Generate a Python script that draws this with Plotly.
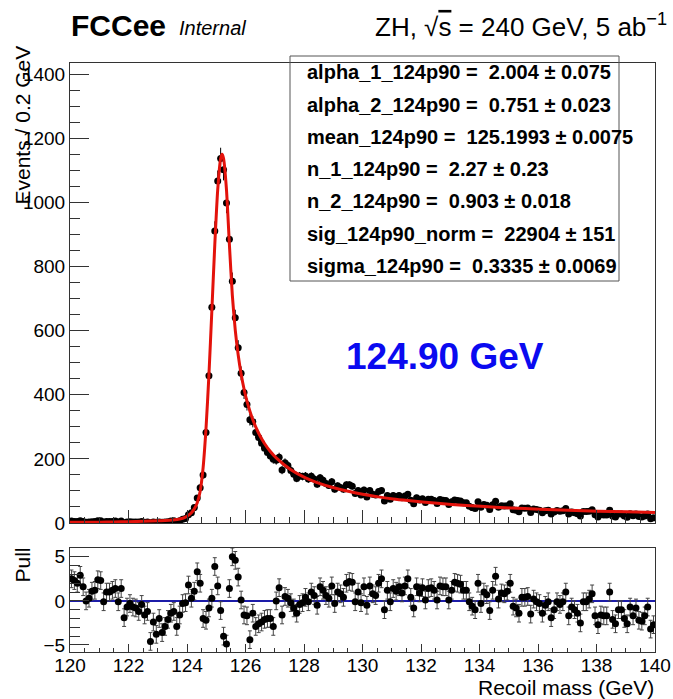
import numpy as np
import plotly.graph_objects as go

# ---------------- data ----------------
BIN_LO, BIN_HI, NBINS = 120.0, 140.0, 200

counts = [6, 5, 5, 7, 5, 2, 3, 4, 5, 7,
          7, 3, 5, 5, 5, 6, 3, 6, 1, 3,
          4, 3, 3, 3, 5, 2, 3, 1, 3, 2,
          3, 2, 3, 4, 6, 7, 4, 7, 12, 14,
          26, 32, 48, 78, 110, 150, 282, 459, 673, 911,
          1067, 1137, 1102, 998, 885, 754, 640, 547, 467, 407,
          370, 322, 316, 282, 267, 249, 233, 220, 209, 199,
          196, 205, 165, 188, 179, 164, 152, 139, 147, 145,
          147, 137, 146, 137, 121, 141, 133, 123, 117, 129,
          105, 116, 111, 105, 119, 119, 115, 92, 101, 87,
          103, 81, 101, 90, 87, 98, 101, 69, 86, 74,
          86, 82, 86, 79, 84, 90, 71, 60, 79, 72,
          76, 64, 74, 74, 70, 61, 73, 71, 70, 58,
          66, 72, 70, 69, 63, 63, 52, 48, 45, 66,
          49, 58, 55, 42, 57, 68, 49, 54, 53, 54,
          60, 41, 40, 35, 47, 46, 47, 33, 44, 42,
          40, 32, 38, 40, 28, 34, 39, 37, 38, 45,
          28, 34, 32, 29, 22, 36, 36, 37, 41, 26,
          19, 26, 25, 25, 40, 22, 19, 28, 28, 22,
          18, 29, 23, 28, 20, 19, 22, 28, 13, 16]

pulls = [2.5, 2.3, 2.0, 2.9, 1.6, 0.0, 0.3, 1.1, 1.2, 2.4,
         2.3, -0.1, 1.0, 1.0, 1.2, 1.4, -0.1, 1.4, -1.9, -0.7,
         -0.3, -0.7, -0.8, -1.2, -0.4, -1.6, -1.2, -4.6, -2.4, -3.8,
         -2.0, -3.6, -2.9, -2.1, -1.4, -1.2, -2.9, -1.6, -0.3, -0.2,
         1.8, 0.3, 1.1, 3.3, 2.0, -2.0, -2.2, -0.8, 0.3, 3.9,
         1.7, -1.1, -4.0, -4.9, 1.4, 5.0, 4.6, 2.7, 0.1, -1.6,
         -1.7, -4.4, -1.4, -2.9, -2.6, -2.4, -2.1, -2.0, -2.0, -2.9,
         0.0, 1.5, -1.6, 0.5, 0.3, -0.2, -0.8, -1.4, -0.4, -0.2,
         0.4, -0.1, 1.0, 0.6, -0.5, 1.6, 1.2, 0.6, 0.3, 1.7,
         -0.3, 1.0, 0.8, 0.4, 2.0, 2.2, 2.1, -0.1, 1.0, -0.2,
         1.6, -0.5, 1.7, 0.8, 0.6, 2.0, 2.5, -1.0, 1.2, -0.1,
         1.4, 1.1, 1.6, 0.9, 1.7, 2.5, 0.4, -0.8, 1.6, 0.9,
         1.5, 0.1, 1.4, 1.5, 1.2, 0.1, 1.7, 1.6, 1.6, 0.1,
         1.2, 2.1, 2.0, 1.9, 1.2, 1.2, -0.1, -0.6, -1.0, 2.0,
         -0.3, 1.0, 0.7, -1.1, 1.2, 2.8, 0.2, 0.9, 0.8, 1.1,
         2.0, -0.6, -0.8, -1.4, 0.4, 0.4, 0.5, -1.5, 0.2, -0.1,
         -0.3, -1.4, -0.5, -0.1, -1.9, -1.0, -0.1, -0.4, -0.1, 1.0,
         -1.7, -0.7, -1.0, -1.4, -2.5, -0.1, -0.1, 0.2, 0.8, -1.7,
         -2.7, -1.6, -1.7, -1.7, 1.0, -2.1, -2.6, -1.0, -1.0, -2.0,
         -2.6, -0.7, -1.7, -0.8, -2.2, -2.3, -1.7, -0.7, -3.2, -2.7]

fit_mass = [120.0, 120.5, 121.0, 121.5, 122.0, 122.5, 123.0, 123.25, 123.5, 123.75,
            123.95, 124.05, 124.15, 124.25, 124.35, 124.45, 124.55, 124.65, 124.75, 124.85,
            124.95, 125.05, 125.15, 125.2, 125.25, 125.35, 125.45, 125.55, 125.65, 125.75,
            125.85, 125.95, 126.05, 126.25, 126.45, 126.65, 126.85, 127.05, 127.55, 128.05,
            128.55, 129.05, 129.55, 130.05, 130.55, 131.05, 131.55, 132.05, 133.05, 134.05,
            135.05, 136.05, 137.05, 138.05, 139.05, 140.0]
fit_vals = [2.0, 2.3, 2.7, 3.2, 4.0, 5.2, 6.8, 8.0, 9.6, 12.5,
            18.5, 24, 32, 44, 63, 99, 172, 295, 463, 663,
            868, 1039, 1137, 1150, 1137, 1039, 868, 710, 602, 524,
            465, 418, 380, 322, 280, 248, 223, 203, 166, 141,
            123, 109, 98, 89, 81.5, 75, 70, 65.5, 58, 52,
            47, 43, 40, 37, 35, 33]

params = [("alpha_1_124p90", "2.004", "0.075"),
          ("alpha_2_124p90", "0.751", "0.023"),
          ("mean_124p90", "125.1993", "0.0075"),
          ("n_1_124p90", "2.27", "0.23"),
          ("n_2_124p90", "0.903", "0.018"),
          ("sig_124p90_norm", "22904", "151"),
          ("sigma_124p90", "0.3335", "0.0069")]

mass_label = "124.90 GeV"

# ---------------- layout helpers ----------------
W, H = 673, 699
L, R, T, B = 70, 655, 63, 652      # plotting box, in page pixels


def px(x):
    return (x - L) / (R - L)


def py(y):
    return (B - y) / (B - T)


FONT = "Liberation Sans, Arial, Helvetica, sans-serif"
AX = "#333333"

centers = BIN_LO + (np.arange(NBINS) + 0.5) * (BIN_HI - BIN_LO) / NBINS
cnt = np.array(counts, dtype=float)
err = np.sqrt(cnt)

fig = go.Figure()

fig.add_trace(go.Scatter(
    x=centers, y=cnt, mode="markers",
    marker=dict(color="black", size=7),
    error_y=dict(type="data", array=err, color="black", thickness=1, width=0),
    xaxis="x", yaxis="y", showlegend=False, hoverinfo="skip"))
fig.add_trace(go.Scatter(
    x=fit_mass, y=fit_vals, mode="lines",
    line=dict(color="#e3120b", width=3, shape="spline", smoothing=0.6),
    xaxis="x", yaxis="y", showlegend=False, hoverinfo="skip"))

fig.add_trace(go.Scatter(
    x=centers, y=pulls, mode="markers",
    marker=dict(color="black", size=7),
    error_y=dict(type="constant", value=1.0, color="#444444", thickness=1, width=2),
    xaxis="x2", yaxis="y2", showlegend=False, hoverinfo="skip"))

main_bottom = py(523)
pull_top = py(548)

tickfont = dict(family=FONT, size=19, color="black")

fig.update_layout(
    width=W, height=H, autosize=False,
    margin=dict(l=L, r=W - R, t=T, b=H - B, pad=0, autoexpand=False),
    paper_bgcolor="white", plot_bgcolor="white",
    font=dict(family=FONT, color="black"),
    xaxis=dict(domain=[0, 1], range=[BIN_LO, BIN_HI], anchor="y", automargin=False,
               showticklabels=False, ticks="inside", ticklen=13, tickwidth=1,
               tickcolor=AX, tick0=120, dtick=2,
               minor=dict(ticks="inside", ticklen=6, dtick=0.5, tickcolor=AX),
               showline=True, linecolor=AX, linewidth=1, mirror=True,
               showgrid=False, zeroline=False),
    yaxis=dict(domain=[main_bottom, 1], range=[0, 1435], anchor="x", automargin=False,
               ticks="inside", ticklen=19, tickwidth=1, tickcolor=AX,
               tick0=0, dtick=200, tickfont=tickfont, ticklabelstandoff=0,
               minor=dict(ticks="inside", ticklen=10, dtick=50, tickcolor=AX),
               showline=True, linecolor=AX, linewidth=1, mirror=True,
               showgrid=False, zeroline=False),
    xaxis2=dict(domain=[0, 1], range=[BIN_LO, BIN_HI], anchor="y2", automargin=False,
                ticks="inside", ticklen=8, tickwidth=1, tickcolor=AX,
                tick0=120, dtick=2, tickfont=tickfont, ticklabelstandoff=-4,
                ticklabeloverflow="allow",
                minor=dict(ticks="inside", ticklen=4, dtick=0.5, tickcolor=AX),
                showline=True, linecolor=AX, linewidth=1, mirror=True,
                showgrid=False, zeroline=False),
    yaxis2=dict(domain=[0, pull_top], range=[-5.8, 6.0], anchor="x2", automargin=False,
                ticks="inside", ticklen=19, tickwidth=1, tickcolor=AX,
                tickvals=[-5, 0, 5], ticktext=["\u22125", "0", "5"], tickfont=tickfont,
                ticklabelstandoff=0,
                minor=dict(ticks="inside", ticklen=10, dtick=1, tickcolor=AX),
                showline=True, linecolor=AX, linewidth=1, mirror=True,
                showgrid=False, zeroline=False),
)

fig.add_shape(type="line", xref="x2", yref="y2", x0=BIN_LO, x1=BIN_HI, y0=0, y1=0,
              line=dict(color="#1c1ca8", width=2), layer="below")

fig.add_shape(type="rect", xref="paper", yref="paper",
              x0=px(290), x1=px(619), y0=py(281), y1=py(56),
              line=dict(color="#555555", width=1), fillcolor="rgba(0,0,0,0)")

anns = []
row_y = [72, 104.5, 137, 169, 201, 233.5, 266]
for (name, val, unc), yy in zip(params, row_y):
    anns.append(dict(text=f"<b>{name} =  {val} \u00b1 {unc}</b>",
                     x=px(305), y=py(yy), xanchor="left", yanchor="middle",
                     font=dict(family=FONT, size=20, color="black")))

anns += [
    dict(text="<b>FCCee</b>", x=px(69), y=py(25), xanchor="left", yanchor="middle",
         font=dict(family=FONT, size=30, color="black")),
    dict(text="<i>Internal</i>", x=px(177), y=py(28), xanchor="left", yanchor="middle",
         font=dict(family=FONT, size=20, color="black")),
    dict(text="ZH, \u221a<span style='text-decoration:overline'>s</span> = 240 GeV, 5 ab<sup>\u22121</sup>",
         x=px(669), y=py(25), xanchor="right", yanchor="middle",
         font=dict(family=FONT, size=26, color="black")),
    dict(text=f"<b>{mass_label}</b>", x=px(445), y=py(356), xanchor="center", yanchor="middle",
         font=dict(family=FONT, size=37, color="#0a0af0")),
    dict(text="Events / 0.2 GeV", x=px(22), y=py(207), xanchor="center", yanchor="bottom",
         textangle=-90, font=dict(family=FONT, size=21, color="black")),
    dict(text="Pull", x=px(22), y=py(546), xanchor="center", yanchor="top",
         textangle=-90, font=dict(family=FONT, size=21, color="black")),
    dict(text="Recoil mass (GeV)", x=px(656), y=py(687), xanchor="right", yanchor="middle",
         font=dict(family=FONT, size=21, color="black")),
]
for a in anns:
    a.update(xref="paper", yref="paper", showarrow=False)
fig.update_layout(annotations=anns)

# remove the default page margin so the figure sits at the window's corner
fig.write_html("out.html",
               config={"displayModeBar": False},
               post_script="document.body.style.margin='0';"
                           "document.body.style.overflow='hidden';")
